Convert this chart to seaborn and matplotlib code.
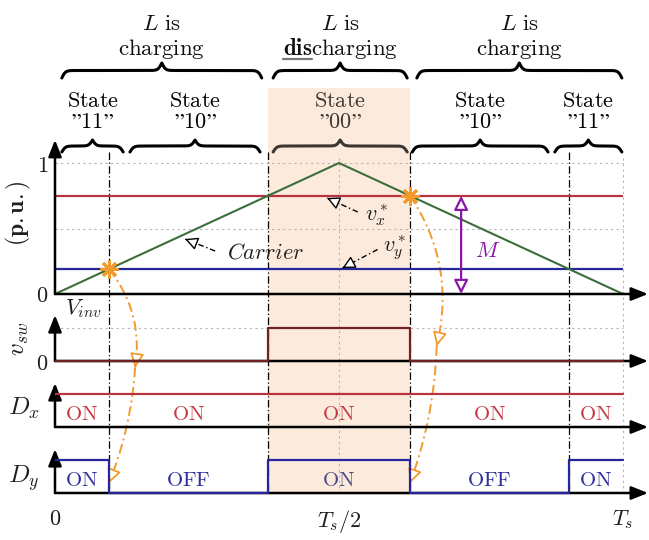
import numpy as np
import matplotlib
matplotlib.use("Agg")
import matplotlib.pyplot as plt
import seaborn as sns

# ---------------- signals (per unit, time normalised to T_s) ----------------
carrier_t = [0.0, 0.5, 1.0]
carrier_v = [0.0, 1.0, 0.0]
vx_ref = 0.75
vy_ref = 0.19
edges_t = [0.0, 0.095, 0.375, 0.625, 0.905, 1.0]
vsw_level = [0, 0, 1, 0, 0]
dx_level = [1, 1, 1, 1, 1]
dy_level = [1, 0, 1, 0, 1]
dx_text = ["ON", "ON", "ON", "ON", "ON"]
dy_text = ["ON", "OFF", "ON", "OFF", "ON"]
state_text = ["\u201d11\u201d", "\u201d10\u201d", "\u201d00\u201d", "\u201d10\u201d", "\u201d11\u201d"]
state_span = [(0.012, 0.120), (0.132, 0.361), (0.384, 0.620), (0.629, 0.868), (0.880, 0.998)]
phase_top = [r"$L\ \mathrm{is}$", r"$L\ \mathrm{is}$", r"$L\ \mathrm{is}$"]
phase_bottom = [r"$\mathrm{charging}$", r"$\mathbf{dis}\mathrm{charging}$", r"$\mathrm{charging}$"]
phase_span = [(0.012, 0.364), (0.384, 0.620), (0.637, 0.998)]
xtick_pos = [0.0, 0.5, 1.0]
xtick_lab = [r"$0$", r"$T_s/2$", r"$T_s$"]
m_pos = 0.715

# ---------------- colours ----------------
RED = "#b8323f"
BLUE = "#26269c"
GREEN = "#3b6e3b"
MAROON = "#6e2222"
ORANGE = "#f29a2e"
PURPLE = "#8a16a8"
SHADE = "#fcebdc"
GRID = "#b5b5b5"
INK = "#1e1e1e"

sns.set_theme(style="white")
plt.rcParams["mathtext.fontset"] = "cm"
plt.rcParams["font.family"] = ["DejaVu Serif"]

W, H = 649, 540
T0_PX, TS_PX = 55, 568
XLO, XHI = 0.0, 1.05
XEND = 1.044

fig = plt.figure(figsize=(W / 100, H / 100), dpi=100)


def rect(y0_px, unit_px, lo, hi):
    left_px = T0_PX + XLO * TS_PX
    width_px = (XHI - XLO) * TS_PX
    bottom_px = y0_px - lo * unit_px
    top_px = y0_px - hi * unit_px
    return [left_px / W, 1 - bottom_px / H, width_px / W, (bottom_px - top_px) / H]


# overlay axes for the period-wide decorations (y measured from the top)
ov = fig.add_axes(rect(H, 1, 0, H))
ov.set_xlim(XLO, XHI)
ov.set_ylim(H, 0)
ov.axis("off")

ax1 = fig.add_axes(rect(294, 131, -0.1, 1.18))
ax2 = fig.add_axes(rect(361, 33, -0.3, 1.4))
ax3 = fig.add_axes(rect(427, 33, -0.3, 1.35))
ax4 = fig.add_axes(rect(493, 33, -0.3, 1.35))
panels = [(ax1, (-0.1, 1.18), 1.176), (ax2, (-0.3, 1.4), 1.39),
          (ax3, (-0.3, 1.35), 1.33), (ax4, (-0.3, 1.35), 1.33)]

for ax, ylim, top in panels:
    ax.set_xlim(XLO, XHI)
    ax.set_ylim(*ylim)
    ax.patch.set_alpha(0)
    for s in ax.spines.values():
        s.set_visible(False)
    ax.set_xticks([])
    ax.set_yticks([])
    head = dict(arrowstyle="-|>,head_length=0.5,head_width=0.2", color="black",
                lw=1.8, shrinkA=0, shrinkB=0, mutation_scale=20)
    ax.annotate("", xy=(XEND, 0), xytext=(0, 0), arrowprops=head, annotation_clip=False, zorder=3)
    ax.annotate("", xy=(0, top), xytext=(0, 0), arrowprops=head, annotation_clip=False, zorder=3)

# ---------------- shading and period markers ----------------
ov.fill_between([edges_t[2], edges_t[3]], 88, 495, color=SHADE, lw=0, zorder=0)
ov.vlines(edges_t[1:5], 152, 493, colors="black", lw=0.9, linestyles=(0, (6, 2, 1, 2)), zorder=1)
ov.vlines([0.5, 1.0], 158, 493, colors=GRID, lw=0.8, linestyles=(0, (2, 3)), zorder=1)


def brace(x0, x1, y_base, h, color="black", lw=2.2):
    width_px = (x1 - x0) * TS_PX
    n = 401
    xp = np.linspace(0, width_px, n)
    beta = 0.55
    half = xp[: n // 2 + 1]
    yh = 1 / (1 + np.exp(-beta * (half - half[0]))) + 1 / (1 + np.exp(-beta * (half - half[-1])))
    yy = np.concatenate((yh, yh[-2::-1])) - 0.5
    ov.plot(x0 + xp / TS_PX, y_base - yy * h, color=color, lw=lw, solid_capstyle="round",
            clip_on=False, zorder=2)


for i, (a, b) in enumerate(phase_span):
    brace(a, b, 78, 15)
    xc = (a + b) / 2
    ov.text(xc, 30, phase_top[i], ha="center", va="baseline", fontsize=16.5, color="#111111")
    t = ov.text(xc, 55, phase_bottom[i], ha="center", va="baseline", fontsize=16.5, color="#111111")
    if i == 1:
        fig.canvas.draw()
        r = fig.canvas.get_renderer()
        bb = t.get_window_extent(r)
        tmp = ov.text(xc, 55, r"$\mathbf{dis}$", ha="left", va="baseline", fontsize=16.5)
        wd = tmp.get_window_extent(r).width
        tmp.remove()
        inv = ov.transData.inverted()
        (ux0, uy), (ux1, _) = inv.transform([(bb.x0, bb.y0 + 2), (bb.x0 + wd, bb.y0 + 2)])
        ov.plot([ux0, ux1], [uy, uy], color="#777777", lw=1.6, clip_on=False)

for i, (a, b) in enumerate(state_span):
    col = "#3d3630" if i == 2 else "black"
    brace(a, b, 152, 12, color=col)
    xc = (a + b) / 2
    ov.text(xc, 107, r"$\mathrm{State}$", ha="center", va="baseline", fontsize=16, color=col)
    ov.text(xc, 128, r"$\mathrm{" + state_text[i] + "}$", ha="center", va="baseline",
            fontsize=16, color=col)

# ---------------- panel 1: carrier and references ----------------
ax1.hlines([0.5, 1.0], 0, 1, colors=GRID, lw=0.8, linestyles=(0, (2, 3)), zorder=1)
ax1.hlines([vx_ref], 0, 1, colors=RED, lw=1.6, zorder=2)
ax1.hlines([vy_ref], 0, 1, colors=BLUE, lw=1.6, zorder=2)
sns.lineplot(x=carrier_t, y=carrier_v, ax=ax1, color=GREEN, lw=1.5, estimator=None, zorder=2)
ax1.plot([edges_t[1], edges_t[3]], [vy_ref, vx_ref], ls="none", marker=(8, 2, 0), ms=13,
         mew=2.0, color=ORANGE, zorder=5)
ax1.set_yticks([0, 1], [r"$0$", r"$1$"])

DASHDOT = (0, (4, 2, 1, 2))


def pointer(ax, tail, tip, color="black", lw=1.0):
    tail, tip = np.array(tail), np.array(tip)
    ax.plot([tail[0], tip[0]], [tail[1], tip[1]], color=color, lw=lw, ls=DASHDOT, clip_on=False, zorder=4)
    near = tip - 0.04 * (tip - tail)
    ax.annotate("", xy=tip, xytext=near, annotation_clip=False, zorder=4,
                arrowprops=dict(arrowstyle="-|>,head_length=0.55,head_width=0.28", fc="white",
                                ec=color, lw=lw, shrinkA=0, shrinkB=0, mutation_scale=14))


pointer(ax1, (0.282, 0.328), (0.229, 0.42))
ax1.text(0.302, 0.313, r"$Carrier$", ha="left", va="center", fontsize=16, color=INK)
pointer(ax1, (0.533, 0.626), (0.479, 0.733))
ax1.text(0.545, 0.60, r"$v_x^*$", ha="left", va="center", fontsize=16, color=INK)
pointer(ax1, (0.568, 0.34), (0.506, 0.198))
ax1.text(0.577, 0.35, r"$v_y^*$", ha="left", va="center", fontsize=16, color=INK)

ax1.annotate("", xy=(m_pos, vx_ref), xytext=(m_pos, 0), annotation_clip=False, zorder=4,
             arrowprops=dict(arrowstyle="<|-|>,head_length=0.6,head_width=0.3", fc="white",
                             ec=PURPLE, lw=1.6, shrinkA=0, shrinkB=0, mutation_scale=14))
ax1.text(m_pos + 0.046, 0.33, r"$M$", ha="center", va="center", fontsize=16, color=PURPLE)

# ---------------- panels 2-4: switching states ----------------
def steps(ax, levels, color):
    y = list(levels) + [levels[-1]]
    sns.lineplot(x=edges_t, y=y, ax=ax, color=color, lw=1.6, drawstyle="steps-post",
                 estimator=None, zorder=4)


ax2.hlines([1], 0, 1, colors=GRID, lw=0.8, linestyles=(0, (2, 3)), zorder=1)
steps(ax2, vsw_level, MAROON)
ax2.set_yticks([0], [r"$0$"])
ax2.text(0.018, 1.6, r"$V_{inv}$", ha="left", va="center", fontsize=16, color=INK)

steps(ax3, dx_level, RED)
steps(ax4, dy_level, BLUE)
for k in range(5):
    xc = (edges_t[k] + edges_t[k + 1]) / 2
    ax3.text(xc, 0.2, r"$\mathrm{" + dx_text[k] + "}$", ha="center", va="baseline",
             fontsize=15, color="#c43a44")
    ax4.text(xc, 0.2, r"$\mathrm{" + dy_text[k] + "}$", ha="center", va="baseline",
             fontsize=15, color="#2f2f9e" if k != 2 else "#4a4a8a")

ax4.set_xticks(xtick_pos, xtick_lab)

for ax in (ax1, ax2, ax4):
    ax.tick_params(length=0, labelsize=16, pad=5, colors=INK)
ax4.tick_params(axis="x", pad=4)

# panel titles on the left
ax1.text(-0.064, 0.62, r"$\mathbf{(p.u.)}$", rotation=90, ha="center", va="center",
         fontsize=17, color=INK)
ax2.text(-0.062, 0.66, r"$v_{sw}$", rotation=90, ha="center", va="center", fontsize=18, color=INK)
ax3.text(-0.055, 0.55, r"$D_x$", ha="center", va="center", fontsize=18, color=INK)
ax4.text(-0.055, 0.45, r"$D_y$", ha="center", va="center", fontsize=18, color=INK)

# ---------------- switching-event arrows (orange) ----------------
def curve(p0, p1, rad, head=True):
    p0, p1 = np.asarray(p0, float), np.asarray(p1, float)
    mid = (p0 + p1) / 2
    d = p1 - p0
    c = mid + rad * np.array([d[1], -d[0]])
    s = np.linspace(0, 1, 80)[:, None]
    pts = (1 - s) ** 2 * p0 + 2 * (1 - s) * s * c + s ** 2 * p1
    dat = ov.transData.inverted().transform(pts)
    ov.plot(dat[:, 0], dat[:, 1], color=ORANGE, lw=1.4, ls=(0, (5, 2, 1, 2)), clip_on=False, zorder=6)
    if head:
        ov.annotate("", xy=dat[-1], xytext=dat[-3], annotation_clip=False, zorder=6,
                    arrowprops=dict(arrowstyle="-|>,head_length=0.6,head_width=0.3", fc="white",
                                    ec=ORANGE, lw=1.3, shrinkA=0, shrinkB=0, mutation_scale=14))


for t_ev, v_ev, t_mid, v_mid in ((edges_t[1], vy_ref, 0.141, -0.2), (edges_t[3], vx_ref, 0.672, 0.45)):
    a = ax1.transData.transform((t_ev, v_ev))
    b = ax2.transData.transform((t_mid, v_mid))
    c = ax4.transData.transform((t_ev, 0.3))
    curve(a, b, -0.22)
    curve(b, c, -0.08)

fig.savefig("out.png", dpi=100)
